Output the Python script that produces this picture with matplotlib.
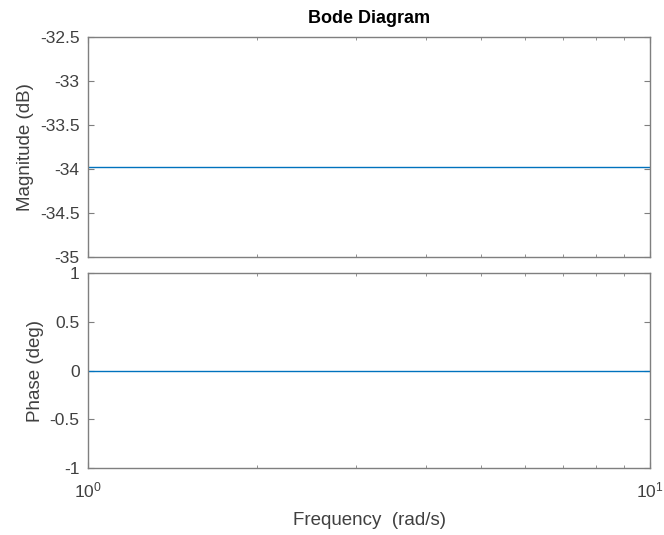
import numpy as np
import matplotlib.pyplot as plt
from matplotlib.ticker import LogLocator, NullFormatter

plt.rcParams['font.family'] = ['Liberation Sans', 'DejaVu Sans']
plt.rcParams['mathtext.fontset'] = 'custom'
plt.rcParams['mathtext.rm'] = 'Liberation Sans'

# data: constant gain system
freq = [1.0, 10.0]
mag_db = [-33.98, -33.98]
phase_deg = [0.0, 0.0]

mag_ticks = [-35, -34.5, -34, -33.5, -33, -32.5]
mag_labels = ['-35', '-34.5', '-34', '-33.5', '-33', '-32.5']
phase_ticks = [-1, -0.5, 0, 0.5, 1]
phase_labels = ['-1', '-0.5', '0', '0.5', '1']
freq_ticks = [1, 10]
freq_labels = [r'$\mathregular{10^{0}}$', r'$\mathregular{10^{1}}$']

line_col = '#0072BD'
ax_col = '#7f7f7f'
txt_col = '#404040'

fig = plt.figure(figsize=(6.64, 5.35), dpi=100)
ax1 = fig.add_axes([0.1325, 0.5196, 0.8465, 0.4112])
ax2 = fig.add_axes([0.1325, 0.1252, 0.8465, 0.3645])

for ax in (ax1, ax2):
    ax.set_xscale('log')
    ax.set_xlim(1, 10)
    ax.set_xticks(freq_ticks)
    ax.xaxis.set_minor_locator(LogLocator(base=10, subs=np.arange(2, 10)))
    ax.xaxis.set_minor_formatter(NullFormatter())
    ax.tick_params(which='both', direction='in', top=True, right=True,
                   colors=ax_col, labelcolor=txt_col, labelsize=12.5)
    ax.tick_params(which='major', length=4)
    ax.tick_params(which='minor', length=2.5)
    ax.tick_params(axis='y', pad=6)
    for s in ax.spines.values():
        s.set_color(ax_col)
        s.set_linewidth(1.0)

ax1.plot(freq, mag_db, color=line_col, lw=1.0)
ax1.set_ylim(-35, -32.5)
ax1.set_yticks(mag_ticks)
ax1.set_yticklabels(mag_labels)
ax1.set_xticklabels([])
ax1.set_ylabel('Magnitude (dB)', fontsize=13.5, color=txt_col, labelpad=4)
ax1.set_title('Bode Diagram', fontsize=13, fontweight='bold', color='black', pad=10)

ax2.plot(freq, phase_deg, color=line_col, lw=1.0)
ax2.set_ylim(-1, 1)
ax2.set_yticks(phase_ticks)
ax2.set_yticklabels(phase_labels)
ax2.set_xticklabels(freq_labels)
ax2.tick_params(axis='x', pad=9)
ax2.set_ylabel('Phase (deg)', fontsize=13.5, color=txt_col, labelpad=4)
ax2.set_xlabel('Frequency  (rad/s)', fontsize=13.5, color=txt_col, labelpad=8)

fig.savefig('out.png', dpi=100)
